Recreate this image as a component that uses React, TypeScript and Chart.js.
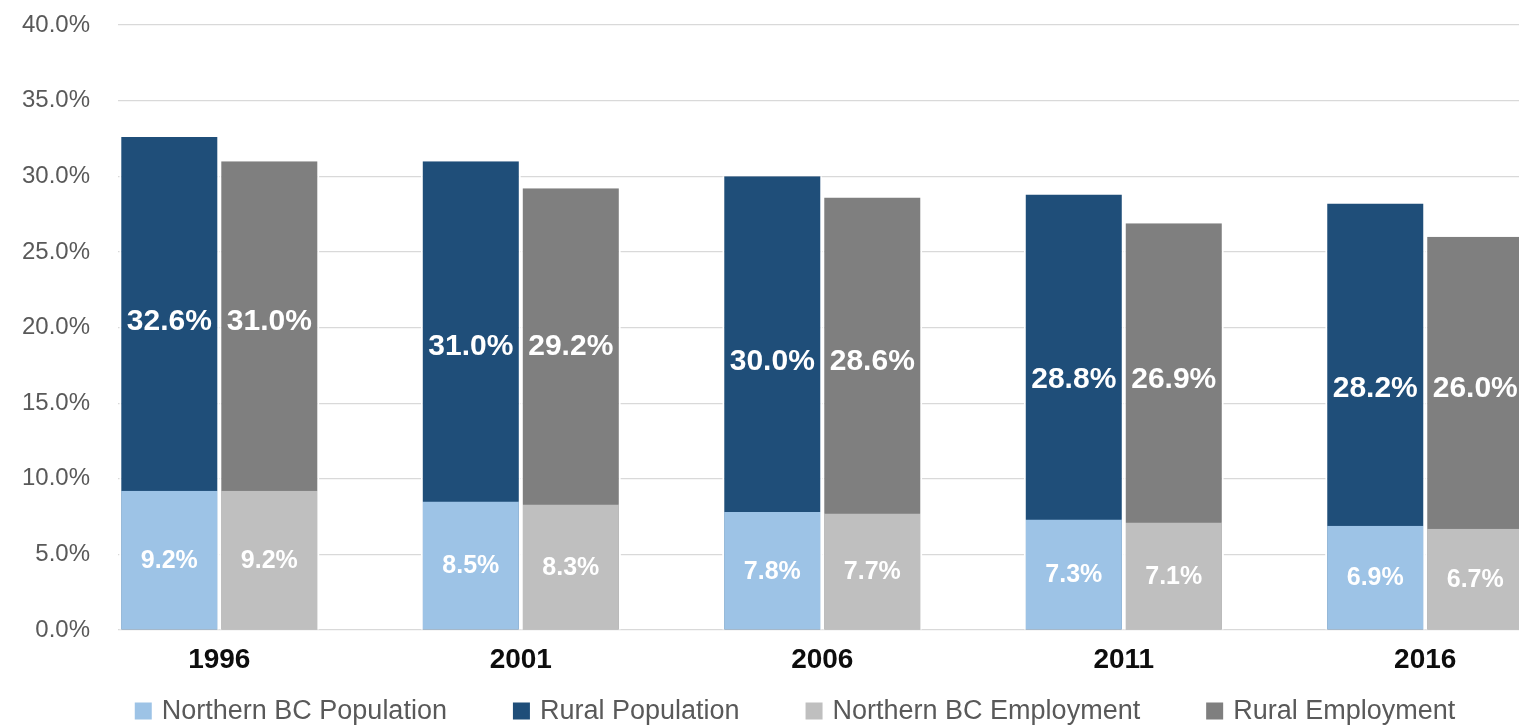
import React, { useEffect, useRef } from "react";
import { Chart, registerables } from "chart.js";

Chart.register(...registerables);

// ---- Data ----
const years = ["1996", "2001", "2006", "2011", "2016"];
const northernPopulation = [9.2, 8.5, 7.8, 7.3, 6.9];
const ruralPopulation = [32.6, 31.0, 30.0, 28.8, 28.2];
const northernEmployment = [9.2, 8.3, 7.7, 7.1, 6.7];
const ruralEmployment = [31.0, 29.2, 28.6, 26.9, 26.0];
const seriesNames = [
  "Northern BC Population",
  "Rural Population",
  "Northern BC Employment",
  "Rural Employment",
];
const yTickValues = [0, 5, 10, 15, 20, 25, 30, 35, 40];

// ---- Styles ----
const COLORS = ["#9DC3E6", "#1F4E79", "#BFBFBF", "#7F7F7F"];
const FONT = '"Liberation Sans", Arial, sans-serif';

const toPoints = (arr: number[]) => arr.map((v, i) => ({ x: i, y: v }));

const labelPlugin = {
  id: "barLabels",
  afterDatasetsDraw(chart: any) {
    const ctx = chart.ctx;
    const area = chart.chartArea;
    ctx.save();
    ctx.fillStyle = "#ffffff";
    ctx.textAlign = "center";
    ctx.textBaseline = "middle";
    chart.data.datasets.forEach((ds: any, di: number) => {
      const meta = chart.getDatasetMeta(di);
      meta.data.forEach((el: any, i: number) => {
        const v = ds.data[i].y;
        const text = v.toFixed(1) + "%";
        let y: number;
        if (ds.kind === "inner") {
          ctx.font = `bold 25px ${FONT}`;
          y = (el.y + el.base) / 2 + 1;
        } else {
          ctx.font = `bold 30px ${FONT}`;
          const popOuter = chart.getDatasetMeta(1).data[i];
          y = popOuter.y + (area.bottom - area.top) * 0.306;
        }
        ctx.fillText(text, el.x, y);
      });
    });
    ctx.restore();
  },
};

const legendPlugin = {
  id: "bottomLegend",
  afterDraw(chart: any) {
    const ctx = chart.ctx;
    ctx.save();
    ctx.font = `27px ${FONT}`;
    ctx.textBaseline = "middle";
    ctx.textAlign = "left";
    const box = 17;
    const gap = 10;
    const itemGap = 66;
    const items = chart.data.datasets.map((d: any) => ({
      label: d.label,
      color: d.backgroundColor,
      w: box + gap + ctx.measureText(d.label).width,
    }));
    const total =
      items.reduce((s: number, it: any) => s + it.w, 0) +
      itemGap * (items.length - 1);
    let x = chart.width / 2 - total / 2;
    const y = 711;
    items.forEach((it: any) => {
      ctx.fillStyle = it.color;
      ctx.fillRect(x, y - box / 2, box, box);
      ctx.fillStyle = "#595959";
      ctx.fillText(it.label, x + box + gap, y + 1);
      x += it.w + itemGap;
    });
    ctx.restore();
  },
};

export default function App() {
  const canvasRef = useRef<HTMLCanvasElement | null>(null);

  useEffect(() => {
    if (!canvasRef.current) return;
    const common = {
      borderColor: "#ffffff",
      borderWidth: { left: 2, right: 2, top: 0, bottom: 0 },
      categoryPercentage: 200 / 301.5,
      barPercentage: 1,
    };
    const chart = new Chart(canvasRef.current, {
      type: "bar",
      data: {
        datasets: [
          { ...common, label: seriesNames[0], data: toPoints(northernPopulation), backgroundColor: COLORS[0], stack: "pop", kind: "inner" } as any,
          { ...common, label: seriesNames[1], data: toPoints(ruralPopulation), backgroundColor: COLORS[1], stack: "pop", kind: "outer" } as any,
          { ...common, label: seriesNames[2], data: toPoints(northernEmployment), backgroundColor: COLORS[2], stack: "emp", kind: "inner" } as any,
          { ...common, label: seriesNames[3], data: toPoints(ruralEmployment), backgroundColor: COLORS[3], stack: "emp", kind: "outer" } as any,
        ],
      },
      options: {
        animation: false,
        responsive: true,
        maintainAspectRatio: false,
        layout: { padding: { top: 25, bottom: 51, left: 0, right: 14 } },
        plugins: {
          legend: { display: false },
          tooltip: { enabled: false },
        },
        scales: {
          x: {
            type: "linear",
            min: -0.336,
            max: 4.5,
            offset: false,
            bounds: "data",
            stacked: true,
            grid: { display: false, drawTicks: false, offset: false },
            border: { display: false },
            afterBuildTicks: (s: any) => {
              s.ticks = years.map((_, i) => ({ value: i }));
            },
            afterFit: (s: any) => {
              s.height = 46;
            },
            ticks: {
              autoSkip: false,
              maxRotation: 0,
              padding: 13,
              color: "#0d0d0d",
              font: { family: FONT, size: 28, weight: "bold" },
              callback: (v: any) => years[v as number],
            },
          },
          y: {
            min: 0,
            max: 40,
            stacked: false,
            afterBuildTicks: (s: any) => {
              s.ticks = yTickValues.map((v) => ({ value: v }));
            },
            afterFit: (s: any) => {
              s.width = 118;
              s.paddingTop = 0;
              s.paddingBottom = 0;
            },
            grid: { color: "#D9D9D9", lineWidth: 1.2, drawTicks: false },
            border: { display: false },
            ticks: {
              padding: 28,
              color: "#595959",
              font: { family: FONT, size: 24 },
              callback: (v: any) => Number(v).toFixed(1) + "%",
            },
          },
        },
      } as any,
      plugins: [labelPlugin, legendPlugin],
    });
    return () => chart.destroy();
  }, []);

  return (
    <div
      style={{
        position: "fixed",
        left: 0,
        top: 0,
        width: 1519,
        height: 727,
        overflow: "hidden",
        background: "#ffffff",
      }}
    >
      <div style={{ position: "relative", width: 1590, height: 727 }}>
        <canvas ref={canvasRef} />
      </div>
    </div>
  );
}
